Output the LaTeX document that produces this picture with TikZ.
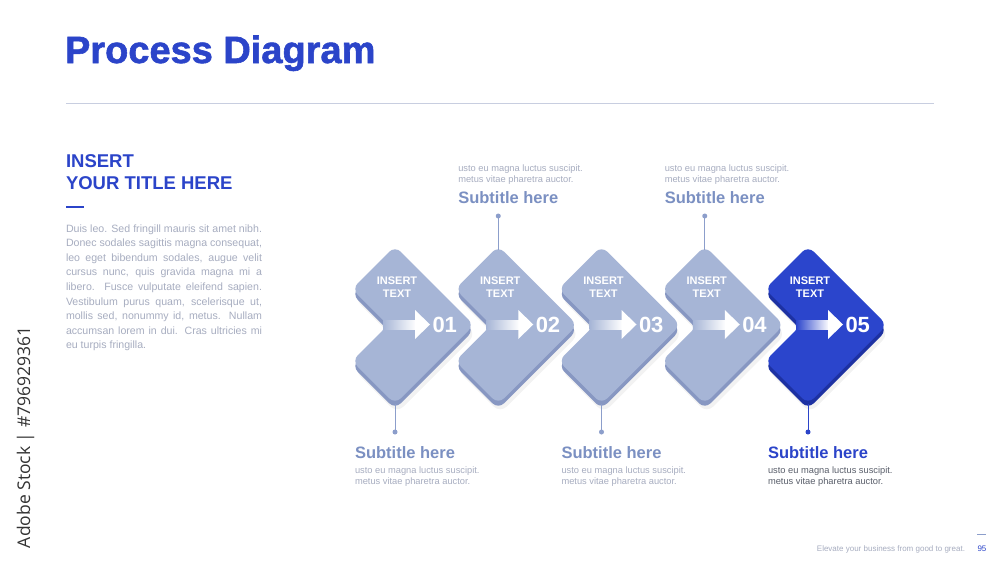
\documentclass[tikz,border=0pt]{standalone}
\usepackage{fontspec}
\setmainfont{Liberation Sans}
\newfontfamily\wmfont{Open Sans}
\newfontfamily\heavyfont{Liberation Sans Bold}[RawFeature={embolden=1.5}]
\definecolor{titleblue}{HTML}{2B44C9}
\definecolor{face}{HTML}{A6B5D6}
\definecolor{side}{HTML}{8797C2}
\definecolor{bface}{HTML}{2B45CC}
\definecolor{bside}{HTML}{1D31A2}
\definecolor{subblue}{HTML}{7B90C2}
\definecolor{greytext}{HTML}{A7ADC0}
\definecolor{darktext}{HTML}{5A5F6B}
\definecolor{rulecol}{HTML}{C8CEE0}
\definecolor{linecol}{HTML}{8C9ECB}
\tikzset{
  every node/.style={inner sep=0pt, outer sep=0pt},
  smalltxt/.style={font=\fontsize{9.3}{11}\selectfont, text=greytext, anchor=base west},
  subtxt/.style={font=\fontsize{16.5}{18}\selectfont\bfseries, text=subblue, anchor=base west},
  bodytxt/.style={font=\fontsize{10.6}{14.6}\selectfont, text=greytext, anchor=base west},
  lefttitle/.style={font=\fontsize{18.5}{22}\selectfont\bfseries, text=titleblue, anchor=base west},
  insertxt/.style={font=\fontsize{11}{12.5}\selectfont\bfseries, text=white, align=center},
  numtxt/.style={font=\fontsize{22}{22}\selectfont\bfseries, text=white, anchor=west},
  dotnode/.style={circle, minimum size=5pt, inner sep=0pt},
  conn/.style={line width=1pt},
}
\begin{document}
\begin{tikzpicture}[x=1pt,y=-1pt]
\useasboundingbox (0,0) rectangle (1000,563);
\fill[white] (0,0) rectangle (1000,563);

% header
\node[anchor=base west, font=\heavyfont\fontsize{38}{40}\selectfont, text=titleblue] (title) at (65,63) {Process Diagram};
\coordinate (ruleA) at (66,103);
\coordinate (ruleB) at (934,103);
\draw[rulecol, line width=0.9pt] (ruleA) -- (ruleB);

% left column
\node[lefttitle] (lt1) at (66,167) {INSERT};
\node[lefttitle] (lt2) at (66,189.5) {YOUR TITLE HERE};
\coordinate (dashA) at (66,207);
\coordinate (dashB) at (84,207);
\draw[titleblue, line width=2pt] (dashA) -- (dashB);
\foreach \k/\txt in {0/{Duis leo. Sed fringill mauris sit amet nibh.},
  1/{Donec sodales sagittis magna consequat,},
  2/{leo eget bibendum sodales, augue velit},
  3/{cursus nunc, quis gravida magna mi a},
  4/{libero. Fusce vulputate eleifend sapien.},
  5/{Vestibulum purus quam, scelerisque ut,},
  6/{mollis sed, nonummy id, metus. Nullam},
  7/{accumsan lorem in dui. Cras ultricies mi}}
  \node[bodytxt] (body\k) at (66,{232+14.6*\k}) {\makebox[196pt][s]{\txt}};
\node[bodytxt] (body8) at (66,{232+14.6*8}) {eu turpis fringilla.};

% chevrons
\foreach \i/\f/\s in {1/face/side,2/face/side,3/face/side,4/face/side,5/bface/bside}{
  \pgfmathsetmacro\cx{395+103.25*(\i-1)}
  % soft shadow
  \fill[black, opacity=0.05, rounded corners=9pt]
    (\cx+2,255) -- (\cx+81,334) -- (\cx+2,413) -- (\cx-41,370) -- (\cx-5,334) -- (\cx-41,298) -- cycle;
  % side (3D thickness)
  \fill[\s, rounded corners=8pt]
    (\cx,251) -- (\cx+79,330) -- (\cx,409) -- (\cx-43,366) -- (\cx-7,330) -- (\cx-43,294) -- cycle;
  % top face
  \fill[\f, rounded corners=8pt]
    (\cx,246) -- (\cx+79,325) -- (\cx,404) -- (\cx-43,361) -- (\cx-7,325) -- (\cx-43,289) -- cycle;
  % arrow
  \shade[left color=\f, right color=white] (\cx-12,320) rectangle (\cx+21,329);
  \fill[white] (\cx+20,310) -- (\cx+35,324.5) -- (\cx+20,339) -- cycle;
  \node[numtxt] (num\i) at (\cx+37.5,325) {0\i};
  \node[insertxt] (ins\i) at (\cx+2,287) {INSERT\\TEXT};
  \coordinate (top\i) at (\cx,250);
  \coordinate (bot\i) at (\cx,404);
}

% top connectors and texts (steps 2 and 4)
\foreach \i in {2,4}{
  \pgfmathsetmacro\cx{395+103.25*(\i-1)}
  \node[dotnode, fill=linecol] (tdot\i) at (\cx,216) {};
  \draw[conn, linecol] (tdot\i.center) -- (top\i);
  \node[smalltxt] (tsa\i) at (\cx-40,171) {usto eu magna luctus suscipit.};
  \node[smalltxt] (tsb\i) at (\cx-40,182) {metus vitae pharetra auctor.};
  \node[subtxt] (tsub\i) at (\cx-40,203) {Subtitle here};
}

% bottom connectors and texts (steps 1 and 3)
\foreach \i in {1,3}{
  \pgfmathsetmacro\cx{395+103.25*(\i-1)}
  \node[dotnode, fill=linecol] (bdot\i) at (\cx,432) {};
  \draw[conn, linecol] (bot\i) -- (bdot\i.center);
  \node[subtxt] (bsub\i) at (\cx-40,458) {Subtitle here};
  \node[smalltxt] (bsa\i) at (\cx-40,473.5) {usto eu magna luctus suscipit.};
  \node[smalltxt] (bsb\i) at (\cx-40,484.5) {metus vitae pharetra auctor.};
}
% step 5 (highlighted)
\pgfmathsetmacro\cx{395+103.25*4}
\node[dotnode, fill=titleblue] (bdot5) at (\cx,432) {};
\draw[conn, titleblue] (bot5) -- (bdot5.center);
\node[subtxt, text=titleblue] (bsub5) at (\cx-40,458) {Subtitle here};
\node[smalltxt, text=darktext] (bsa5) at (\cx-40,473.5) {usto eu magna luctus suscipit.};
\node[smalltxt, text=darktext] (bsb5) at (\cx-40,484.5) {metus vitae pharetra auctor.};

% footer
\node[anchor=base east, font=\fontsize{8}{9}\selectfont, text=greytext] (foot) at (965,551.5) {Elevate your business from good to great.};
\node[anchor=base west, font=\fontsize{8}{9}\selectfont, text=titleblue] (page) at (977.5,551.5) {95};
\coordinate (pdA) at (977,534);
\coordinate (pdB) at (986,534);
\draw[linecol, line width=0.8pt] (pdA) -- (pdB);

% vertical stock label
\node[rotate=90, anchor=base west, font=\wmfont\fontsize{17.5}{20}\selectfont, text=black!80] (stock) at (30,548) {Adobe Stock | \#796929361};
\end{tikzpicture}
\end{document}
